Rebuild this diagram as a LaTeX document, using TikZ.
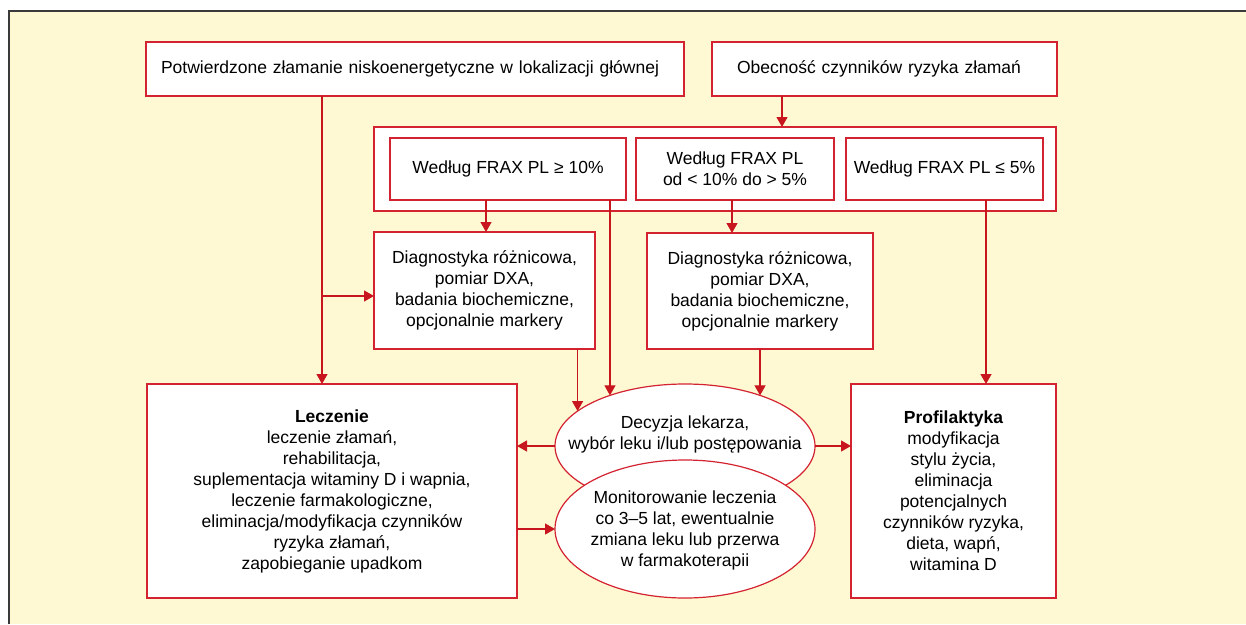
\documentclass[tikz,border=0pt]{standalone}
\usepackage{fontspec}
\setmainfont{Liberation Sans}
\usetikzlibrary{arrows.meta,shapes.geometric}
\definecolor{bg}{HTML}{FFF9D3}
\definecolor{boxred}{HTML}{D42330}
\definecolor{arrred}{HTML}{C8161E}
\definecolor{framec}{HTML}{3A3A3A}
\begin{document}
\begin{tikzpicture}[x=1pt,y=-1pt,
  txt/.style={font=\fontsize{17.5pt}{21pt}\selectfont, align=center},
  boxn/.style={txt, draw=boxred, fill=white, line width=1.2pt, rectangle, inner sep=0pt, outer sep=0pt},
  ell/.style={ellipse, draw=boxred, fill=white, line width=1.2pt, inner sep=0pt, outer sep=0pt},
  arr/.style={draw=arrred, line width=1.2pt, -{Triangle[length=10pt,width=11pt]}}]
\useasboundingbox (0,0) rectangle (1246,624);
\fill[bg] (9,11) rectangle (1246,624);
\draw[framec, line width=2pt] (9,624) -- (9,11) -- (1246,11);

% helper coordinates
\coordinate (x322) at (322,0);
\coordinate (c296) at (322,296);
\coordinate (x782) at (782,0);
\coordinate (x486) at (486,0);
\coordinate (x732) at (732,0);
\coordinate (x986) at (986,0);

% top boxes
\node[boxn, minimum width=538pt, minimum height=54pt, text width=508pt, align=left] (b1) at (415,69)
  {Potwierdzone złamanie niskoenergetyczne w lokalizacji głównej};
\node[boxn, minimum width=345pt, minimum height=54pt, text width=295pt, align=left] (b2) at (884.5,69)
  {Obecność czynników ryzyka złamań};

% container with FRAX boxes
\node[boxn, minimum width=682pt, minimum height=84pt] (cont) at (715,169) {};
\node[boxn, minimum width=236pt, minimum height=62pt] (f1) at (508,169) {Według FRAX PL ≥ 10\%};
\node[boxn, minimum width=198pt, minimum height=62pt] (f2) at (735,169) {Według FRAX PL\\od < 10\% do > 5\%};
\node[boxn, minimum width=197pt, minimum height=62pt] (f3) at (944.5,169) {Według FRAX PL ≤ 5\%};

% diagnostics
\node[boxn, minimum width=221pt, minimum height=117pt] (d1) at (484.5,290.5)
  {Diagnostyka różnicowa,\\pomiar DXA,\\badania biochemiczne,\\opcjonalnie markery};
\node[boxn, minimum width=226pt, minimum height=116pt] (d2) at (760,291)
  {Diagnostyka różnicowa,\\pomiar DXA,\\badania biochemiczne,\\opcjonalnie markery};

% bottom boxes
\node[boxn, minimum width=370pt, minimum height=214pt] (lecz) at (332,491)
  {\textbf{Leczenie}\\leczenie złamań,\\rehabilitacja,\\suplementacja witaminy D i wapnia,\\leczenie farmakologiczne,\\eliminacja/modyfikacja czynników\\ryzyka złamań,\\zapobieganie upadkom};
\node[boxn, minimum width=205pt, minimum height=214pt] (prof) at (953.5,491)
  {\textbf{Profilaktyka}\\modyfikacja\\stylu życia,\\eliminacja\\potencjalnych\\czynników ryzyka,\\dieta, wapń,\\witamina D};

% ellipses
\node[ell, minimum width=260pt, minimum height=124pt] (e1) at (685,446) {};
\node[txt] (t1) at (685,434) {Decyzja lekarza,\\wybór leku i/lub postępowania};
\node[ell, minimum width=260pt, minimum height=138pt] (e2) at (685,529) {};
\node[txt] (t2) at (685,530) {Monitorowanie leczenia\\co 3–5 lat, ewentualnie\\zmiana leku lub przerwa\\w farmakoterapii};

% connectors
\draw[arr] (b1.south -| x322) -- (lecz.north -| x322);
\draw[arr] (c296) -- (d1.west |- c296);
\draw[arr] (b2.south -| x782) -- (cont.north -| x782);
\draw[arr] (f1.south -| x486) -- (d1.north -| x486);
\draw[arr] (f1.south -| e1.146.5) -- (e1.146.5);
\draw[arr] (f2.south -| x732) -- (d2.north -| x732);
\draw[arr] (f3.south -| x986) -- (prof.north -| x986);
\draw[arr] (d1.south -| e1.162.3) -- (e1.162.3);
\draw[arr] (d2.south -| e1.34.6) -- (e1.34.6);
\draw[arr] (e1.west) -- (lecz.east |- e1.west);
\draw[arr] (e1.east) -- (prof.west |- e1.east);
\draw[arr] (lecz.east |- e2.west) -- (e2.west);
\end{tikzpicture}
\end{document}
